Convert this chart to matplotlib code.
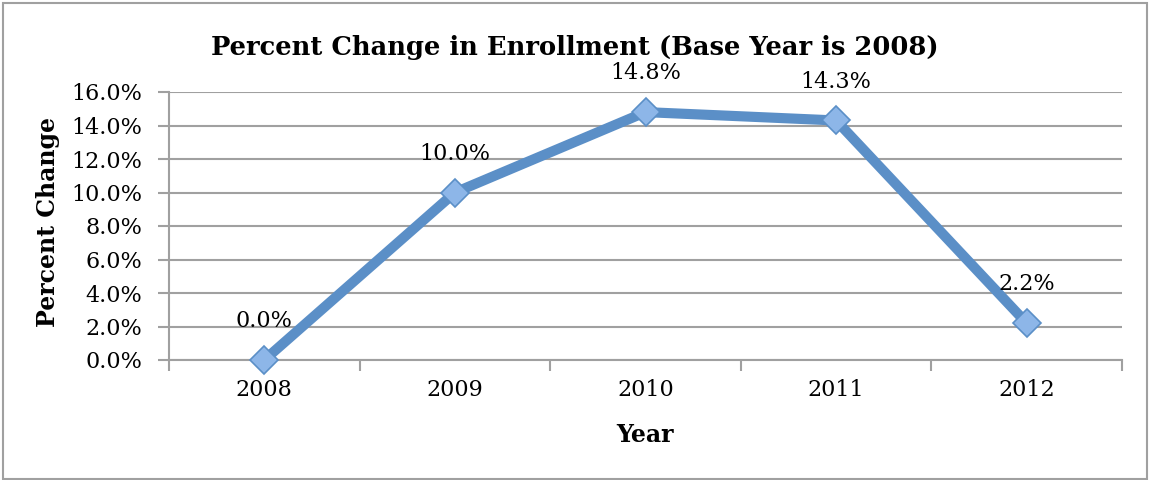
import matplotlib
matplotlib.use("Agg")
import matplotlib.pyplot as plt
from matplotlib.patches import Rectangle

years = ["2008", "2009", "2010", "2011", "2012"]
pct_change = [0.0, 10.0, 14.8, 14.3, 2.2]
y_ticks = [0, 2, 4, 6, 8, 10, 12, 14, 16]

plt.rcParams['font.family'] = ['DejaVu Serif']

W, H = 1150, 480
fig = plt.figure(figsize=(W / 100, H / 100), dpi=100)
ax = fig.add_axes([169 / W, 1 - 360 / H, (1122 - 169) / W, (360 - 92) / H])

x = list(range(len(years)))
ax.plot(x, pct_change, color='#5B8FC7', lw=7.3, solid_capstyle='round', zorder=3, clip_on=False)
ax.plot(x, pct_change, ls='none', marker='D', ms=14, mfc='#8DB6E8', mec='#5B8FC7', mew=1.2,
        zorder=4, clip_on=False)

for xi, v in zip(x, pct_change):
    ax.annotate(f"{v:.1f}%", (xi, v), xytext=(0, 28), textcoords='offset points',
                ha='center', va='center', fontsize=16, zorder=5)

ax.set_xlim(-0.5, len(years) - 0.5)
ax.set_ylim(0, 16)
ax.set_yticks(y_ticks)
ax.set_yticklabels([f"{t:.1f}%" for t in y_ticks], fontsize=16)
ax.yaxis.grid(True, color='#A0A0A0', lw=1.5)
ax.set_axisbelow(True)

ax.set_xticks([i - 0.5 for i in range(len(years) + 1)])
ax.set_xticklabels([])
ax.set_xticks(x, minor=True)
ax.set_xticklabels(years, minor=True, fontsize=16)
ax.tick_params(axis='x', which='minor', length=0, pad=14)
ax.tick_params(axis='x', which='major', length=8, color='#A0A0A0', width=1.5)
ax.tick_params(axis='y', length=8, color='#A0A0A0', width=1.5, pad=11)

for s in ['top', 'right']:
    ax.spines[s].set_visible(False)
for s in ['left', 'bottom']:
    ax.spines[s].set_color('#A0A0A0')
    ax.spines[s].set_linewidth(1.5)

fig.text(0.5, 1 - 48 / H, "Percent Change in Enrollment (Base Year is 2008)", fontsize=18.5,
         fontweight='bold', ha='center', va='center')
fig.text(645 / W, 1 - 435 / H, "Year", fontsize=17, fontweight='bold', ha='center', va='center')
fig.text(48 / W, 1 - 222 / H, "Percent Change", fontsize=17, fontweight='bold', ha='center',
         va='center', rotation=90)

fig.patches.append(Rectangle((3 / W, 1 / H), (1147 - 3) / W, (478 - 2) / H,
                             transform=fig.transFigure, fill=False,
                             edgecolor='#A0A0A0', lw=1.5))

fig.savefig("out.png", dpi=100)
